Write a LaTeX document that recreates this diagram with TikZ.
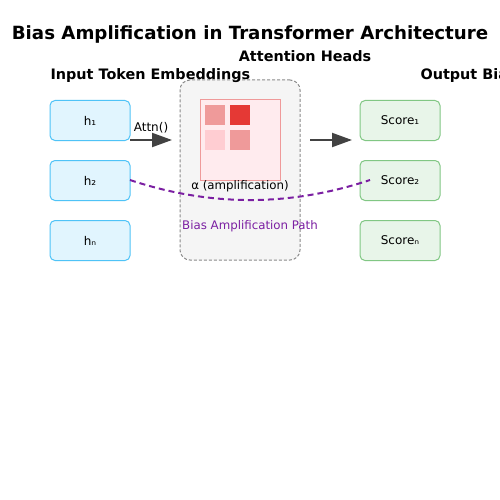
\documentclass[tikz,border=0pt]{standalone}
\usepackage{fontspec}
\setmainfont{DejaVu Sans}
\usetikzlibrary{arrows.meta}
\definecolor{tokfill}{HTML}{E1F5FE}
\definecolor{tokline}{HTML}{4FC3F7}
\definecolor{outfill}{HTML}{E8F5E9}
\definecolor{outline}{HTML}{81C784}
\definecolor{headfill}{HTML}{F5F5F5}
\definecolor{headline}{HTML}{8A8A8A}
\definecolor{mapfill}{HTML}{FFEBEE}
\definecolor{mapline}{HTML}{EF9A9A}
\definecolor{wlow}{HTML}{FFCDD2}
\definecolor{wmid}{HTML}{EF9A9A}
\definecolor{whigh}{HTML}{E53935}
\definecolor{biaspath}{HTML}{7B1FA2}
\definecolor{flow}{HTML}{424242}
\begin{document}
\begin{tikzpicture}[x=1pt,y=-1pt,
    token/.style={draw=tokline,fill=tokfill,line width=1pt,rounded corners=5pt,
      minimum width=80pt,minimum height=40pt,font=\fontsize{12}{14}\selectfont},
    score/.style={draw=outline,fill=outfill,line width=1pt,rounded corners=5pt,
      minimum width=80pt,minimum height=40pt,font=\fontsize{12}{14}\selectfont},
    cell/.style={minimum size=20pt,inner sep=0pt},
    header/.style={font=\fontsize{14.4}{16}\selectfont\bfseries},
    flowarrow/.style={draw=flow,line width=2pt,-{Triangle[length=20pt,width=14pt]}}]
  \fill[white] (0,0) rectangle (500,500);
  \useasboundingbox (0,0) rectangle (500,500);
  \node[font=\fontsize{18.2}{20}\selectfont\bfseries] (title) at (250,34)
    {Bias Amplification in Transformer Architecture};
  % attention block
  \node[draw=headline,fill=headfill,dash pattern=on 3pt off 2pt,line width=1pt,rounded corners=10pt,
    minimum width=120pt,minimum height=180pt] (heads) at (240,170) {};
  \node[draw=mapline,fill=mapfill,line width=1pt,minimum size=80pt] (attnmap) at (240,140) {};
  \node[cell,fill=wmid] (w11) at (215,115) {};
  \node[cell,fill=whigh] (w12) at (240,115) {};
  \node[cell,fill=wlow] (w21) at (215,140) {};
  \node[cell,fill=wmid] (w22) at (240,140) {};
  \node[font=\fontsize{11.8}{13}\selectfont] (alpha) at (240,186.5) {α (amplification)};
  \node[font=\fontsize{11.8}{13}\selectfont,text=biaspath] (pathlabel) at (250,226.5)
    {Bias Amplification Path};
  % headers
  \node[header] (headstitle) at (305,56) {Attention Heads};
  \node[header,anchor=west] (intitle) at (47,76) {Input Token Embeddings};
  \node[header,anchor=west] (outtitle) at (417,76) {Output Bias Scores};
  % tokens and scores
  \draw
    (90,120.5) node[token] (h1){h₁}
    (90,180.5) node[token] (h2){h₂}
    (90,240.5) node[token] (hn){hₙ}
    (400,120.5) node[score] (s1){Score₁}
    (400,180.5) node[score] (s2){Score₂}
    (400,240.5) node[score] (sn){Scoreₙ};
  \coordinate (inend) at (172,140);
  \coordinate (outstart) at (310,140);
  \coordinate (outend) at (352,140);
  \coordinate (biasend) at (370,180);
  \begin{scope}
    \draw[flowarrow] (130,140) to node[above=3pt,font=\fontsize{12}{14}\selectfont,text=black] (attn){Attn()} (inend);
    \draw[flowarrow] (outstart) to (outend);
    \draw[biaspath,line width=2pt,dash pattern=on 6pt off 4pt]
      (130,180) .. controls (210,206.7) and (290,206.7) .. (biasend);
  \end{scope}
\end{tikzpicture}
\end{document}
